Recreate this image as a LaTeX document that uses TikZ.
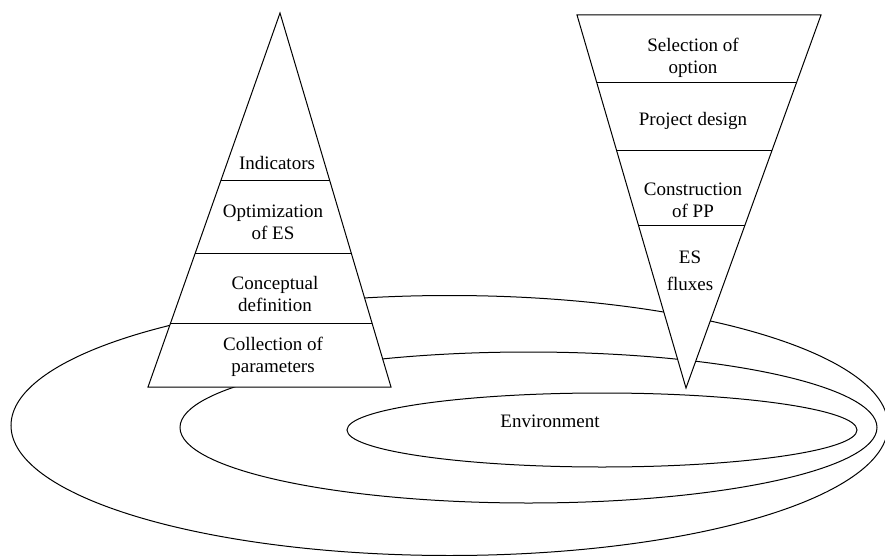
\documentclass[tikz,border=0pt]{standalone}
\usepackage{fontspec}
\setmainfont{Liberation Serif}
\usetikzlibrary{calc}
\begin{document}
\begin{tikzpicture}[x=1pt,y=-1pt,
  line/.style={line width=1pt, draw=black, line join=miter},
  tri/.style={line, fill=white},
  lbl/.style={font=\fontsize{19}{22}\selectfont, inner sep=0pt, anchor=base},
]
\useasboundingbox (0,0) rectangle (885,556);
% ellipses
\coordinate (outerC) at (449.5,425.5);
\coordinate (midC) at (528.5,427.5);
\coordinate (envC) at (602,430);
\draw[line] (outerC) ellipse [x radius=438.5, y radius=130];
\draw[line] (midC) ellipse [x radius=348.5, y radius=75.5];
\draw[line] (envC) ellipse [x radius=255, y radius=37];
\node[lbl] (env) at (550,427) {Environment};
% left pyramid
\coordinate (LA) at (280,13);
\coordinate (LL) at (148,387);
\coordinate (LR) at (391,387);
\draw[tri] (LA) -- (LL) -- (LR) -- cycle;
\foreach \t/\n in {0.449/1,0.644/2,0.829/3}{
  \coordinate (Ll\n) at ($(LA)!\t!(LL)$);
  \coordinate (Lr\n) at ($(LA)!\t!(LR)$);
  \draw[line] (Ll\n) -- (Lr\n);
}
\node[lbl] (ind) at (277,170) {Indicators};
\node[lbl] (opt) at (273,217) {\begin{tabular}[t]{@{}c@{}}Optimization\\of ES\end{tabular}};
\node[lbl] (con) at (275,289) {\begin{tabular}[t]{@{}c@{}}Conceptual\\definition\end{tabular}};
\node[lbl] (col) at (273,350) {\begin{tabular}[t]{@{}c@{}}Collection of\\parameters\end{tabular}};
% right inverted triangle
\coordinate (RA) at (686,388);
\coordinate (RL) at (577,15);
\coordinate (RR) at (821,15);
\draw[tri] (RA) -- (RL) -- (RR) -- cycle;
\foreach \t/\n in {0.820/1,0.638/2,0.437/3}{
  \coordinate (Rl\n) at ($(RA)!\t!(RL)$);
  \coordinate (Rr\n) at ($(RA)!\t!(RR)$);
  \draw[line] (Rl\n) -- (Rr\n);
}
\node[lbl] (sel) at (693,52) {\begin{tabular}[t]{@{}c@{}}Selection of\\option\end{tabular}};
\node[lbl] (pro) at (693,126) {Project design};
\node[lbl] (cst) at (693,195) {\begin{tabular}[t]{@{}c@{}}Construction\\of PP\end{tabular}};
\node[lbl] (esf) at (690,263) {\begin{tabular}[t]{@{}c@{}}ES\\[5pt]fluxes\end{tabular}};
\end{tikzpicture}
\end{document}
